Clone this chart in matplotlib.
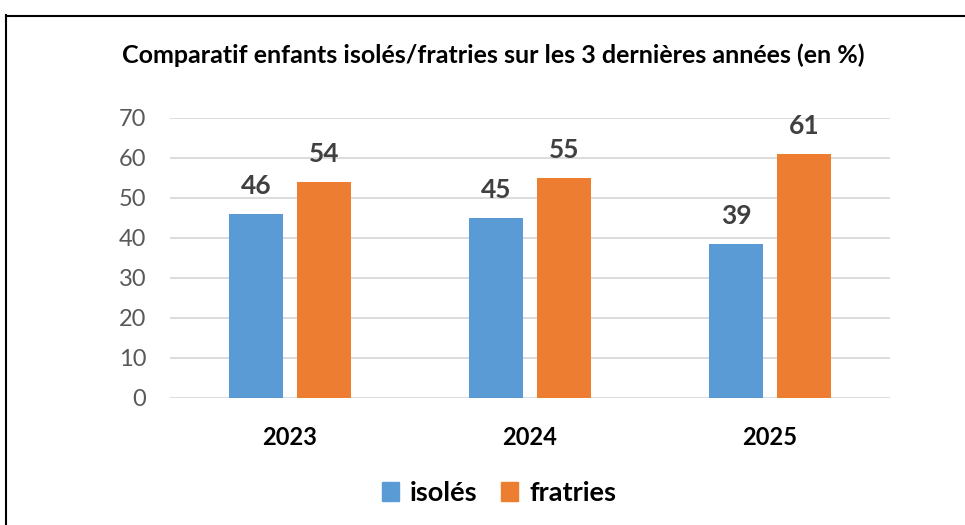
import matplotlib
matplotlib.use("Agg")
import matplotlib.pyplot as plt
from matplotlib.lines import Line2D
from matplotlib.patches import Patch
import numpy as np

years = ["2023", "2024", "2025"]
isoles = [46, 45, 38.6]
fratries = [54, 55, 61.1]
yticks = [0, 10, 20, 30, 40, 50, 60, 70]
title = "Comparatif enfants isolés/fratries sur les 3 dernières années (en %)"

plt.rcParams['font.family'] = ['Lato', 'DejaVu Sans']

W, H = 965, 525
fig = plt.figure(figsize=(W/100, H/100), dpi=100)
ax = fig.add_axes([170/W, 1-398/H, 720/W, 280/H])

x = np.arange(len(years))
bw = 0.225
blue = "#5B9BD5"
orange = "#ED7D31"
b1 = ax.bar(x - 0.142, isoles, bw, color=blue, zorder=3)
b2 = ax.bar(x + 0.142, fratries, bw, color=orange, zorder=3)

for bars, vals in ((b1, isoles), (b2, fratries)):
    for r, v in zip(bars, vals):
        ax.text(r.get_x() + r.get_width()/2, v + 3.9, f"{round(v):d}",
                ha="center", va="bottom", fontsize=19, fontweight="bold", color="#404040")

ax.set_xlim(-0.5, 2.5)
ax.set_ylim(0, 70)
ax.set_yticks(yticks)
ax.set_xticks(x)
ax.set_xticklabels(years, fontsize=17, fontweight="bold", color="black")
ax.tick_params(axis="y", labelsize=17, colors="#595959", length=0, pad=17)
ax.tick_params(axis="x", length=0, pad=20)
ax.grid(axis="y", color="#D9D9D9", linewidth=1.3, zorder=0)
for s in ax.spines.values():
    s.set_visible(False)

fig.text(493/W, 1-55/H, title, ha="center", va="center", fontsize=18, fontweight="bold")

handles = [Patch(color=blue, label="isolés"), Patch(color=orange, label="fratries")]
fig.legend(handles=handles, loc="center", bbox_to_anchor=(499/W, 1-493/H), ncol=2,
           frameon=False, prop={"size": 19.5, "weight": "bold"}, handlelength=0.65,
           handleheight=0.65, handletextpad=0.4, columnspacing=0.85)

fig.add_artist(Line2D([5.5/W, 5.5/W], [0, 1-15/H], color="black", linewidth=1.5, transform=fig.transFigure))
fig.add_artist(Line2D([5.5/W, 1], [1-16/H, 1-16/H], color="black", linewidth=1.5, transform=fig.transFigure))

fig.savefig("out.png", dpi=100)
